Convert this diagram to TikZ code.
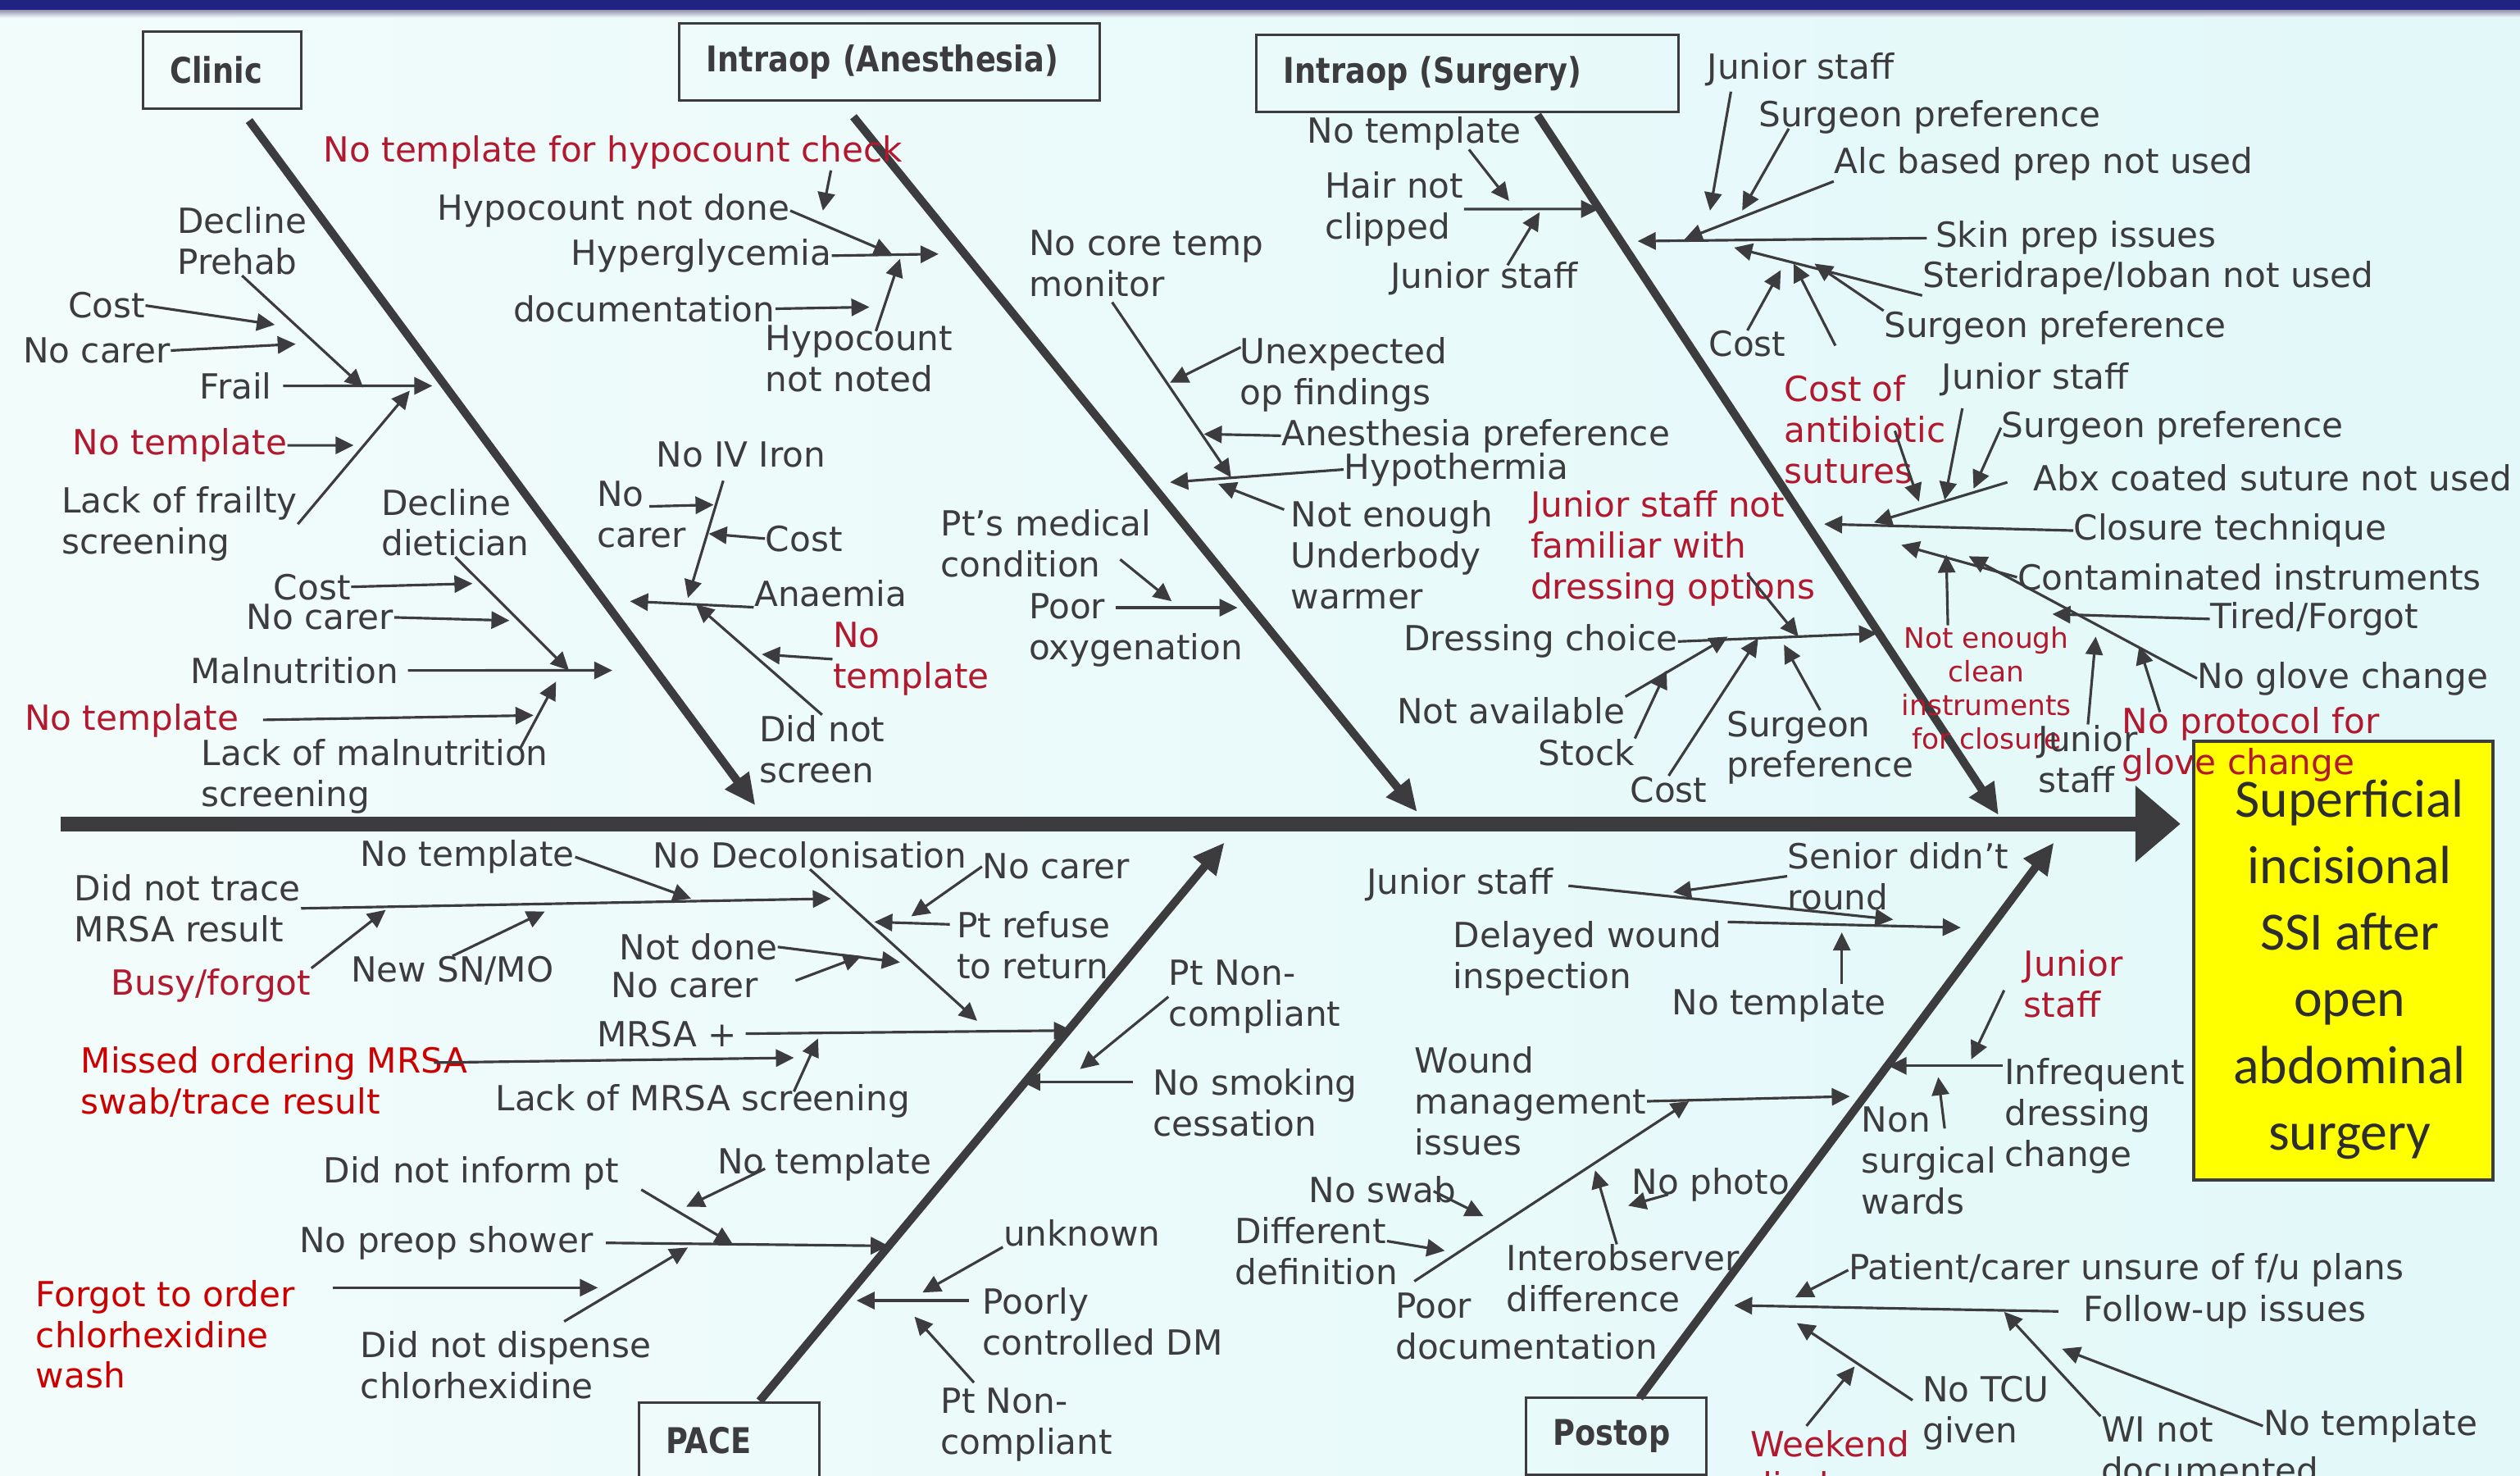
\documentclass[tikz,border=0pt]{standalone}
\usepackage{fontspec}
\setmainfont{DejaVu Sans}
\newfontfamily\catfont{DejaVu Sans}[FakeStretch=0.85]
\newfontfamily\effectfont{Carlito}
\usetikzlibrary{arrows.meta}

\definecolor{ink}{RGB}{60,60,62}
\definecolor{myred}{RGB}{178,24,46}
\definecolor{brightred}{RGB}{204,0,0}
\definecolor{bgleft}{RGB}{242,252,251}
\definecolor{bgright}{RGB}{226,248,249}
\definecolor{banner}{RGB}{34,34,130}
\definecolor{effectyellow}{RGB}{255,255,0}
\definecolor{effectink}{RGB}{45,45,45}

\tikzset{
  lbl/.style={
    anchor=west,
    inner sep=0pt,
    yshift=-0.4mm,
    align=left,
    text=ink,
    font=\fontsize{12}{14.2}\selectfont
  },
  redlbl/.style={
    lbl,
    text=myred
  },
  brightlbl/.style={
    lbl,
    text=brightred
  },
  smallredlbl/.style={
    lbl,
    anchor=center,
    align=center,
    text=myred,
    font=\fontsize{9.8}{11.7}\selectfont
  },
  catbox/.style={
    draw=ink,
    line width=0.9pt,
    anchor=north west,
    inner xsep=3.3mm,
    inner ysep=0pt,
    minimum height=0.94cm,
    align=left,
    text=ink,
    font=\catfont\bfseries\fontsize{12.3}{14}\selectfont
  },
  effectbox/.style={
    draw=ink,
    line width=1.2pt,
    fill=effectyellow,
    minimum width=3.65cm,
    minimum height=5.35cm
  },
  effecttext/.style={
    inner sep=0pt,
    align=center,
    text=effectink,
    font=\effectfont\fontsize{18.7}{23.1}\selectfont
  },
  twig/.style={draw=ink, line width=0.9pt, -{Triangle[length=2.2mm,width=2.1mm]}},
  bone/.style={draw=ink, line width=1mm, -{Triangle[length=3.8mm,width=3.4mm]}},
  spine/.style={draw=ink, line width=1.76mm, -{Triangle[length=5.5mm,width=9mm]}}
}
\newcommand{\fishlabel}[4][lbl]{%
  \node[#1] (#2) at (#3) {#4};
}
\newcommand{\twig}[4][]{%
  \coordinate (#3) at (#4);
  \draw[twig,#1] (#2) -- (#3);
}
\newcommand{\twigfrom}[4]{%
  \coordinate (#1) at (#2);
  \coordinate (#3) at (#4);
  \draw[twig] (#1) -- (#3);
}

\begin{document}
\begin{tikzpicture}[x=0.0196cm, y=-0.0196cm]

\fill[left color=bgleft, right color=bgright] (0,0) rectangle (1568,918);
\useasboundingbox (0,0) rectangle (1568,918);
\fill[banner] (0,0) rectangle (1568,6.5);
\fill[top color=banner!45!gray!60, bottom color=bgleft] (0,6.5) rectangle (1568,11);

\node[catbox, text width=1.27cm] (clinic) at (88,19) {Clinic};
\node[catbox, text width=4.47cm] (anesthesia) at (422,13.7) {Intraop (Anesthesia)};
\node[catbox, text width=4.49cm] (surgery) at (781,21) {Intraop (Surgery)};
\node[catbox, text width=1.54cm] (pace) at (396.6,871.5) {PACE};
\node[catbox, text width=1.54cm] (postop) at (948.6,868.6) {Postop};
\node[effectbox] (effect) at (1458,597.5) {};
\node[effecttext] (effect-text) at (1462,603)
  {Superficial\\incisional\\SSI after\\open\\abdominal\\surgery};

\coordinate (sp-tail) at (37.5,512.5);
\draw[spine, shorten >=1.4mm] (sp-tail) -- (effect.west |- sp-tail);

\coordinate (cl-root) at (155,75);
\coordinate (cl-tip) at (470,501);
\coordinate (an-root) at (531,72.6);
\coordinate (an-tip) at (881.8,505);
\coordinate (su-root) at (956.7,71.6);
\coordinate (su-tip) at (1243.6,507);
\coordinate (pa-root) at (472.7,871.5);
\coordinate (pa-tip) at (761.9,524.1);
\coordinate (po-root) at (1020.1,869.6);
\coordinate (po-tip) at (1278,524.1);
\draw[bone] (cl-root) -- (cl-tip);
\draw[bone] (an-root) -- (an-tip);
\draw[bone] (su-root) -- (su-tip);
\draw[bone] (pa-root) -- (pa-tip);
\draw[bone] (po-root) -- (po-tip);

\fishlabel{cl-prehab}{110,148}{Decline\\Prehab}
\fishlabel{cl-cost1}{42,188}{Cost}
\fishlabel{cl-carer1}{14,216}{No carer}
\fishlabel{cl-frail}{124,238}{Frail}
\fishlabel[redlbl]{cl-tmpl1}{45,275}{No template}
\fishlabel{cl-frailty}{38,324}{Lack of frailty\\screening}
\fishlabel{cl-diet}{237,323}{Decline\\dietician}
\fishlabel{cl-cost2}{170,363}{Cost}
\fishlabel{cl-carer2}{153,382}{No carer}
\fishlabel{cl-malnut}{118,415}{Malnutrition}
\fishlabel[redlbl]{cl-tmpl2}{15,446}{No template}
\fishlabel{cl-malscr}{125,481}{Lack of malnutrition\\screening}
\fishlabel{cl-iron}{408,281}{No IV Iron}
\fishlabel{cl-carer3}{371,318}{No\\carer}
\fishlabel{cl-cost3}{476,333}{Cost}
\fishlabel{cl-anaemia}{469,367}{Anaemia}
\fishlabel[redlbl]{cl-tmpl3}{518,408}{No\\template}
\fishlabel{cl-screen}{472,464}{Did not\\screen}

\fishlabel[redlbl]{an-tmpl}{201,93}{No template for hypocount check}
\fishlabel{an-notdone}{272,129}{Hypocount not done}
\fishlabel{an-hyper}{355,157}{Hyperglycemia}
\fishlabel{an-doc}{319,190}{documentation}
\fishlabel{an-noted}{476,221}{Hypocount\\not noted}
\fishlabel{an-core}{640,162}{No core temp\\monitor}
\fishlabel{an-unexp}{771,231}{Unexpected\\op findings}
\fishlabel{an-pref}{797,269}{Anesthesia preference}
\fishlabel{an-hypo}{836,290}{Hypothermia}
\fishlabel{an-warmer}{803,343}{Not enough\\Underbody\\warmer}
\fishlabel{an-medical}{585,336}{Pt’s medical\\condition}
\fishlabel{an-oxy}{640,390}{Poor\\oxygenation}

\fishlabel{su-tmpl}{813,81}{No template}
\fishlabel{su-hair}{824,128}{Hair not\\clipped}
\fishlabel{su-junior1}{865,171}{Junior staff}
\fishlabel{su-junior2}{1062,41}{Junior staff}
\fishlabel{su-pref1}{1094,71}{Surgeon preference}
\fishlabel{su-alc}{1141,100}{Alc based prep not used}
\fishlabel{su-skin}{1204,146}{Skin prep issues}
\fishlabel{su-steri}{1196,171}{Steridrape/Ioban not used}
\fishlabel{su-pref2}{1172,202}{Surgeon preference}
\fishlabel{su-cost1}{1063,212}{Cost}
\fishlabel[redlbl]{su-costab}{1110,265}{Cost of\\antibiotic\\sutures}
\fishlabel{su-junior3}{1208,234}{Junior staff}
\fishlabel{su-pref3}{1245,264}{Surgeon preference}
\fishlabel{su-abx}{1265,295}{Abx coated suture not used}
\fishlabel{su-closure}{1290,328}{Closure technique}
\fishlabel{su-contam}{1255,357}{Contaminated instruments}
\fishlabel{su-tired}{1375,383}{Tired/Forgot}
\fishlabel{su-glove}{1367,420}{No glove change}
\fishlabel[smallredlbl]{su-clean}{1236,426}{Not enough\\clean\\instruments\\for closure}
\fishlabel{su-junior4}{1268,470}{Junior\\staff}
\fishlabel[redlbl]{su-protocol}{1320,461}{No protocol for\\glove change}
\fishlabel[redlbl]{su-junior5}{952,339}{Junior staff not\\familiar with\\dressing options}
\fishlabel{su-dress}{873,397}{Dressing choice}
\fishlabel{su-navail}{869,440}{Not available}
\fishlabel{su-stock}{957,466}{Stock}
\fishlabel{su-cost2}{1014,489}{Cost}
\fishlabel{su-pref4}{1074,463}{Surgeon\\preference}

\fishlabel{pa-tmpl1}{224,531}{No template}
\fishlabel{pa-decol}{406,530}{No Decolonisation}
\fishlabel{pa-carer1}{611,537}{No carer}
\fishlabel{pa-trace}{46,563}{Did not trace\\MRSA result}
\fishlabel[redlbl]{pa-busy}{69,611}{Busy/forgot}
\fishlabel{pa-newsn}{218,602}{New SN/MO}
\fishlabel{pa-notdone}{385,587}{Not done}
\fishlabel{pa-carer2}{380,611}{No carer}
\fishlabel{pa-refuse}{595,586}{Pt refuse\\to return}
\fishlabel{pa-mrsa}{371,641}{MRSA +}
\fishlabel[brightlbl]{pa-missed}{50,671}{Missed ordering MRSA\\swab/trace result}
\fishlabel{pa-lack}{308,683}{Lack of MRSA screening}
\fishlabel{pa-noncomp1}{727,618}{Pt Non-\\compliant}
\fishlabel{pa-smoke}{717,684}{No smoking\\cessation}
\fishlabel{pa-inform}{201,728}{Did not inform pt}
\fishlabel{pa-tmpl2}{446,722}{No template}
\fishlabel{pa-shower}{186,771}{No preop shower}
\fishlabel[brightlbl]{pa-forgot}{22,828}{Forgot to order\\chlorhexidine\\wash}
\fishlabel{pa-dispense}{224,847}{Did not dispense\\chlorhexidine}
\fishlabel{pa-unknown}{624,765}{unknown}
\fishlabel{pa-dm}{611,820}{Poorly\\controlled DM}
\fishlabel{pa-noncomp2}{585,884}{Pt Non-\\compliant}

\fishlabel{po-junior1}{850,548}{Junior staff}
\fishlabel{po-senior}{1112,543}{Senior didn’t\\round}
\fishlabel{po-delayed}{904,594}{Delayed wound\\inspection}
\fishlabel{po-tmpl1}{1040,623}{No template}
\fishlabel[redlbl]{po-junior2}{1259,610}{Junior\\staff}
\fishlabel{po-infreq}{1247,692}{Infrequent\\dressing\\change}
\fishlabel{po-nonsurg}{1158,720}{Non\\surgical\\wards}
\fishlabel{po-wound}{880,683}{Wound\\management\\issues}
\fishlabel{po-swab}{814,738}{No swab}
\fishlabel{po-photo}{1015,735}{No photo}
\fishlabel{po-defn}{768,776}{Different\\definition}
\fishlabel{po-inter}{937,793}{Interobserver\\difference}
\fishlabel{po-poor}{868,823}{Poor\\documentation}
\fishlabel{po-patient}{1150,788}{Patient/carer unsure of f/u plans}
\fishlabel{po-follow}{1296,814}{Follow-up issues}
\fishlabel{po-tcu}{1196,877}{No TCU\\given}
\fishlabel[redlbl]{po-weekend}{1089,911}{Weekend\\discharge}
\fishlabel{po-wi}{1307,900}{WI not\\documented}
\fishlabel{po-tmpl2}{1408,885}{No template}

\twig{cl-cost1.east}{cl-a1}{171,202}
\twig{cl-carer1.east}{cl-a2}{184,214}
\twig{cl-prehab.south}{cl-a3}{226,241}
\twig[shorten <=1.3mm]{cl-frail.east}{cl-a4}{269,240}
\twig{cl-tmpl1.east}{cl-a5}{220,277}
\twig{cl-frailty.east}{cl-a6}{255,243}
\twig{cl-cost2.east}{cl-b1}{294,363}
\twig{cl-carer2.east}{cl-b2}{317,386}
\twig{cl-diet.south}{cl-b3}{354,417}
\twig[shorten <=1.1mm]{cl-malnut.east}{cl-b4}{381,417}
\twig[shorten <=2.9mm]{cl-tmpl2.east}{cl-b5}{332,445}
\twigfrom{cl-b6}{324,465}{cl-b7}{346,424}
\twig{cl-anaemia.south west}{cl-c1}{392,374}
\twigfrom{cl-c2}{404,315}{cl-c3}{444,314}
\twigfrom{cl-c4}{450,299}{cl-c5}{428,372}
\twig{cl-cost3.west}{cl-c6}{441,332}
\twig{cl-screen.north}{cl-c7}{433,376}
\twig{cl-tmpl3.west}{cl-c8}{474,407}

\twigfrom{an-a0}{517,106}{an-a1}{512,131}
\twig{an-notdone.east}{an-a2}{555,158}
\twig{an-hyper.east}{an-a3}{584,158}
\twig{an-doc.east}{an-a4}{541,191}
\twigfrom{an-a5}{545,206}{an-a6}{560,161}
\twigfrom{an-b1}{692,188}{an-b2}{766,297}
\twig{an-pref.west}{an-b3}{749,270}
\twigfrom{an-b4}{772,216}{an-b5}{728,238}
\twig{an-hypo.west}{an-b6}{728,300}
\twigfrom{an-b7}{799,317}{an-b8}{758,301}
\twigfrom{an-b9}{697,348}{an-b10}{729,374}
\twigfrom{an-b11}{694,378}{an-b12}{770,378}

\twig{su-hair.east}{su-a1}{995,130}
\twigfrom{su-a2}{914,93}{su-a3}{939,125}
\twigfrom{su-a4}{938,165}{su-a5}{958,132}
\twig[shorten <=1mm]{su-skin.west}{su-b1}{1019,150}
\twig{su-alc.south west}{su-b2}{1048,149}
\twigfrom{su-b3}{1077,57}{su-b4}{1064,131}
\twigfrom{su-b5}{1113,80}{su-b6}{1084,131}
\twig{su-steri.south west}{su-b7}{1079,154}
\twig{su-cost1.north}{su-b8}{1108,168}
\twigfrom{su-b9}{1142,215}{su-b10}{1116,164}
\twig{su-pref2.north west}{su-b11}{1129,164}
\twig{su-closure.west}{su-c1}{1135,326}
\twigfrom{su-c2}{1249,300}{su-c3}{1166,325}
\twigfrom{su-c4}{1179,268}{su-c5}{1194,312}
\twigfrom{su-c6}{1221,254}{su-c7}{1210,311}
\twig{su-pref3.west}{su-c8}{1228,304}
\twig{su-contam.west}{su-c9}{1183,339}
\twigfrom{su-c10}{1212,389}{su-c11}{1211,345}
\twig{su-glove.west}{su-c12}{1225,346}
\twig{su-tired.west}{su-c13}{1277,382}
\twig{su-junior4.north}{su-c14}{1304,396}
\twigfrom{su-c15}{1344,443}{su-c16}{1331,402}
\twig{su-dress.east}{su-d1}{1168,394}
\twigfrom{su-d2}{1088,358}{su-d3}{1119,396}
\twig{su-navail.north east}{su-d4}{1075,396}
\twig{su-stock.north east}{su-d5}{1037,417}
\twig{su-cost2.north}{su-d6}{1094,397}
\twig{su-pref4.north}{su-d7}{1110,401}

\twig{pa-trace.east}{pa-a1}{517,559}
\twig{pa-tmpl1.east}{pa-a2}{430,559}
\twig{pa-busy.north east}{pa-a3}{240,566}
\twig{pa-newsn.north}{pa-a4}{339,567}
\twig{pa-decol.south}{pa-a5}{608,635}
\twig{pa-carer1.west}{pa-a6}{567,570}
\twigfrom{pa-a7}{591,575}{pa-a8}{544,573.5}
\twig{pa-notdone.east}{pa-a9}{560,598.6}
\twigfrom{pa-a10}{495,610}{pa-a11}{536,594.6}
\twig[shorten <=1mm]{pa-mrsa.east}{pa-a12}{667,641}
\twigfrom{pa-a13}{270,661}{pa-a14}{494,658}
\twigfrom{pa-a15}{494,679}{pa-a16}{509,646}
\twig{pa-noncomp1.west}{pa-a17}{672,665}
\twigfrom{pa-a18}{705,673}{pa-a19}{636,673}
\twigfrom{pa-a20}{399,740}{pa-a21}{456,774}
\twigfrom{pa-a22}{476,727}{pa-a23}{427,750.6}
\twig[shorten <=1.5mm]{pa-shower.east}{pa-a24}{553,775}
\twigfrom{pa-a25}{207,801}{pa-a26}{372,801}
\twigfrom{pa-a27}{351,822}{pa-a28}{428,776}
\twig{pa-unknown.south west}{pa-a29}{574,804}
\twigfrom{pa-a30}{603,809}{pa-a31}{533,809}
\twigfrom{pa-a32}{606,860}{pa-a33}{569,819}

\twig[shorten <=1.8mm]{po-junior1.east}{po-a1}{1178,572}
\twig{po-senior.west}{po-a2}{1041,555}
\twigfrom{po-a3}{1075,573.5}{po-a4}{1220,577}
\twigfrom{po-a5}{1146,612}{po-a6}{1146,580}
\twigfrom{po-a7}{1247,616}{po-a8}{1226.5,659}
\twigfrom{po-a9}{1246,663}{po-a10}{1175,663}
\twigfrom{po-a11}{1210,702}{po-a12}{1206,670}
\twig{po-wound.east}{po-a13}{1151,682}
\twigfrom{po-a14}{880,797}{po-a15}{1051,685}
\twigfrom{po-a16}{892,741}{po-a17}{923,756.5}
\twigfrom{po-a18}{863,772}{po-a19}{899,778}
\twigfrom{po-a20}{1006,774}{po-a21}{992.5,728}
\twigfrom{po-a22}{1038,743}{po-a23}{1013,750}
\twig[shorten <=3mm]{po-follow.west}{po-a24}{1079,812}
\twig{po-patient.west}{po-a25}{1117,807}
\twigfrom{po-a26}{1124,887}{po-a27}{1154,850}
\twigfrom{po-a28}{1190,871}{po-a29}{1118,823}
\twig{po-wi.north west}{po-a30}{1247,816}
\twig{po-tmpl2.west}{po-a31}{1283,839}

\end{tikzpicture}
\end{document}
